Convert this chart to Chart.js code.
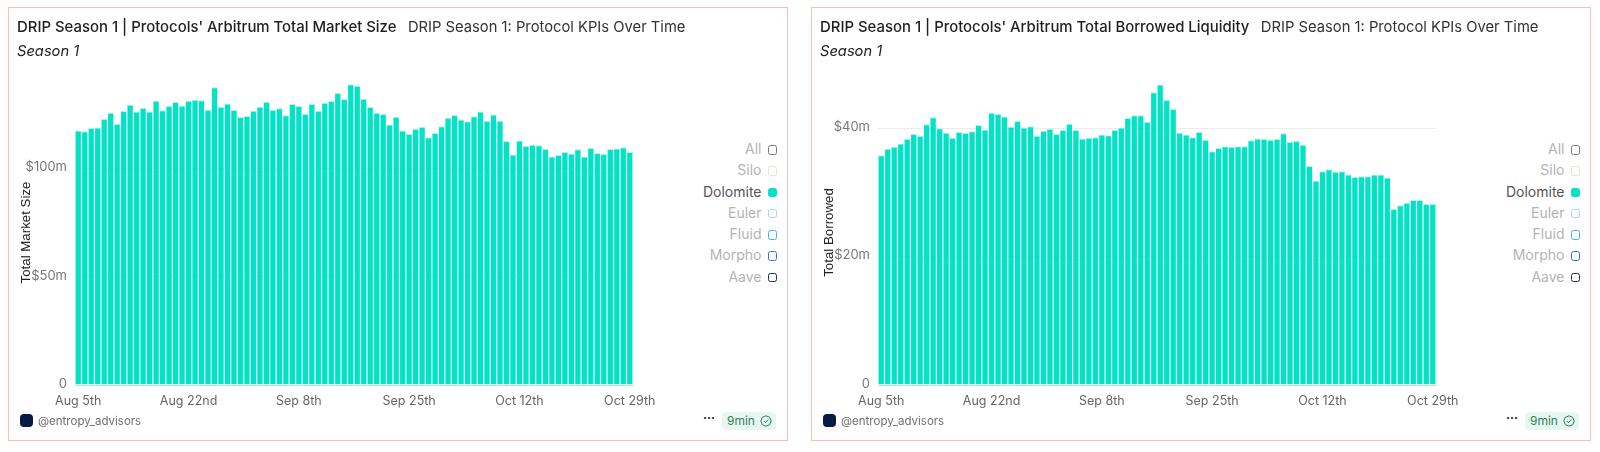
<!DOCTYPE html>
<html>
<head>
<meta charset="utf-8">
<script src="https://cdn.jsdelivr.net/npm/chart.js@4"></script>
<style>
  html, body { margin: 0; padding: 0; background: #fff; }
  body { width: 1600px; height: 452px; position: relative; overflow: hidden; font-family: Inter, sans-serif; }
  .card { position: absolute; top: 7px; width: 778px; height: 432px; border: 1.5px solid #fcbfb2; box-sizing: content-box; }
  .card canvas { position: absolute; left: 0; top: 0; }
  .title { position: absolute; left: 8px; top: 10px; font-size: 14.9px; line-height: 18px; font-weight: 500; color: #1f1f1f; white-space: nowrap; }
  .title span { margin-left: 11.5px; color: #333; font-weight: 400; font-size: 14.75px; }
  .sub { position: absolute; left: 8px; top: 34px; font-size: 14.7px; line-height: 18px; font-style: italic; color: #222; }
  .legend { position: absolute; right: 10px; top: 130px; text-align: right; font-size: 14px; color: #b4b4b4; }
  .legend div { height: 21.3px; line-height: 21.3px; white-space: nowrap; }
  .legend i { display: inline-block; width: 7.5px; height: 7.5px; border: 1.5px solid; border-radius: 2.5px; margin-left: 6px; vertical-align: -0.5px; }
  .legend .on { color: #555; }
  .owner { position: absolute; left: 29px; top: 405px; font-size: 11.5px; line-height: 16px; color: #6f6f6f; }
  .logo { position: absolute; left: 11px; top: 406px; width: 13px; height: 13px; border-radius: 4px; background: #071a44; }
  .dots { position: absolute; left: 694px; top: 402px; font-size: 12px; line-height: 16px; font-weight: 700; color: #222; letter-spacing: 0; }
  .badge { position: absolute; left: 713px; top: 404px; width: 54px; height: 18px; line-height: 18px; border-radius: 4px; background: #e6f7f0; color: #2f7d5b; font-size: 12px; padding-left: 5px; box-sizing: border-box; }
  .badge svg { position: absolute; left: 38px; top: 3px; }
</style>
</head>
<body>
<div id="root"></div>
<script>
// Dữ liệu
const days = ['Aug 5th','Aug 6th','Aug 7th','Aug 8th','Aug 9th','Aug 10th','Aug 11th','Aug 12th','Aug 13th','Aug 14th','Aug 15th','Aug 16th','Aug 17th','Aug 18th','Aug 19th','Aug 20th','Aug 21st','Aug 22nd','Aug 23rd','Aug 24th','Aug 25th','Aug 26th','Aug 27th','Aug 28th','Aug 29th','Aug 30th','Aug 31st',
  'Sep 1st','Sep 2nd','Sep 3rd','Sep 4th','Sep 5th','Sep 6th','Sep 7th','Sep 8th','Sep 9th','Sep 10th','Sep 11th','Sep 12th','Sep 13th','Sep 14th','Sep 15th','Sep 16th','Sep 17th','Sep 18th','Sep 19th','Sep 20th','Sep 21st','Sep 22nd','Sep 23rd','Sep 24th','Sep 25th','Sep 26th','Sep 27th','Sep 28th','Sep 29th','Sep 30th',
  'Oct 1st','Oct 2nd','Oct 3rd','Oct 4th','Oct 5th','Oct 6th','Oct 7th','Oct 8th','Oct 9th','Oct 10th','Oct 11th','Oct 12th','Oct 13th','Oct 14th','Oct 15th','Oct 16th','Oct 17th','Oct 18th','Oct 19th','Oct 20th','Oct 21st','Oct 22nd','Oct 23rd','Oct 24th','Oct 25th','Oct 26th','Oct 27th','Oct 28th','Oct 29th'];
const shownDays = ['Aug 5th','Aug 22nd','Sep 8th','Sep 25th','Oct 12th','Oct 29th'];

const marketSize = [117.6,117.2,118.7,119.0,122.9,125.8,120.6,126.6,129.5,126.3,128.0,126.4,131.3,126.9,128.9,130.7,129.0,131.3,131.8,131.5,127.2,137.5,128.4,130.1,127.0,123.8,124.3,126.7,128.6,130.9,127.0,127.8,124.6,129.8,128.9,125.2,129.8,126.7,130.4,131.2,134.9,132.1,138.9,138.3,132.1,128.4,125.8,125.2,120.4,123.9,117.6,115.9,118.4,119.3,114.4,116.4,119.5,123.5,124.7,122.6,121.9,124.1,126.3,122.1,125.0,122.1,112.7,106.5,112.9,110.4,111.0,110.7,109.0,105.6,106.2,107.6,106.9,108.9,105.6,109.5,107.2,106.7,109.0,109.2,109.8,107.6];
const borrowed = [35.8,36.8,37.1,37.6,38.3,39.1,38.8,40.6,41.7,40.0,39.3,38.5,39.4,39.3,39.5,40.5,39.8,42.4,42.2,41.8,40.2,41.1,40.1,40.3,38.8,39.6,39.9,39.1,39.7,40.7,39.7,38.4,38.5,38.6,39.0,38.9,39.7,40.1,41.6,42.0,42.0,41.0,45.6,46.8,44.4,43.0,39.3,39.0,38.6,39.4,38.2,36.4,36.9,37.2,37.1,37.2,37.2,38.1,38.4,38.3,38.2,38.3,39.2,37.9,38.0,37.4,34.1,31.8,33.3,33.6,33.2,33.3,32.8,32.4,32.5,32.5,32.8,32.8,32.3,27.4,28.0,28.4,28.8,28.8,28.2,28.2];

const marketTicks = [0, 50, 100];
const borrowedTicks = [0, 20, 40];

const legendNames = ['All','Silo','Dolomite','Euler','Fluid','Morpho','Aave'];
const legendColors = ['#777','#e6e3d6','#03e3c6','#a9d3f7','#45aefc','#2f6bf0','#14287f'];

const barColor = '#02e2c5';
const barEdge = 'rgba(160,245,232,0.9)';

var moneyLabel = (v) => v === 0 ? '0' : '$' + v + 'm';

var drawCard = (left, title, axisTitle, values, ticks, maxValue) => {
  let root = document.getElementById('root');
  let card = document.createElement('div');
  card.className = 'card';
  card.style.left = left + 'px';
  let legendHtml = '';
  for (let i = 0; i < legendNames.length; i++) {
    let on = legendNames[i] == 'Dolomite';
    legendHtml += `<div class="${on ? 'on' : ''}">${legendNames[i]}<i style="border-color:${legendColors[i]};${on ? 'background:' + legendColors[i] : ''}"></i></div>`;
  }
  card.innerHTML = `
    <canvas width="654" height="432"></canvas>
    <div class="title">${title}<span>DRIP Season 1: Protocol KPIs Over Time</span></div>
    <div class="sub">Season 1</div>
    <div class="legend">${legendHtml}</div>
    <div class="logo"></div>
    <div class="owner">@entropy_advisors</div>
    <div class="dots">···</div>
    <div class="badge">9min<svg width="12" height="12" viewBox="0 0 12 12" fill="none" stroke="#2f7d5b" stroke-width="1"><path d="M6 .8 9.7 2.3 11.2 6 9.7 9.7 6 11.2 2.3 9.7.8 6 2.3 2.3Z"/><path d="M3.8 6 5.4 7.6 8.3 4.6"/></svg></div>`;
  root.appendChild(card);

  return new Chart(card.querySelector('canvas'), {
    type: 'bar',
    data: {
      labels: days,
      datasets: [{ label: 'Dolomite', data: values, backgroundColor: barColor, borderColor: barEdge, borderWidth: { top: 1, left: 0.5, right: 0.5, bottom: 0 }, barPercentage: 1, categoryPercentage: 0.96 }]
    },
    options: {
      responsive: false,
      animation: false,
      layout: { padding: { top: 72, right: 30 } },
      plugins: { legend: { display: false }, tooltip: { enabled: false } },
      scales: {
        x: {
          offset: true,
          grid: { display: false },
          border: { color: '#d8d8d8' },
          ticks: {
            autoSkip: false, maxRotation: 0, color: '#666', font: { family: 'Inter', size: 12.5 }, padding: 1,
            callback: function (v, i) { return shownDays.includes(days[i]) ? days[i] : ''; }
          },
          // nhãn cuối được phép tràn ra ngoài vùng vẽ
          afterFit: (s) => { s.height = 55; s.paddingLeft = 0; s.paddingRight = 0; }
        },
        y: {
          min: 0,
          max: maxValue,
          afterBuildTicks: (s) => { s.ticks = ticks.map((v) => ({ value: v })); },
          grid: { color: '#ececec', drawTicks: false },
          border: { display: false },
          ticks: { color: '#777', font: { family: 'Inter', size: 13 }, padding: 8, labelOffset: -1, callback: moneyLabel },
          title: { display: true, text: axisTitle, color: '#222', font: { family: 'Liberation Sans', size: 13.3 }, padding: { top: 9, bottom: 0 } },
          afterFit: (s) => { s.width = 66; }
        }
      }
    }
  });
}

drawCard(8, "DRIP Season 1 | Protocols' Arbitrum Total Market Size", 'Total Market Size', marketSize, marketTicks, 140.9);
drawCard(811, "DRIP Season 1 | Protocols' Arbitrum Total Borrowed Liquidity", 'Total Borrowed', borrowed, borrowedTicks, 47.5);
</script>
</body>
</html>
